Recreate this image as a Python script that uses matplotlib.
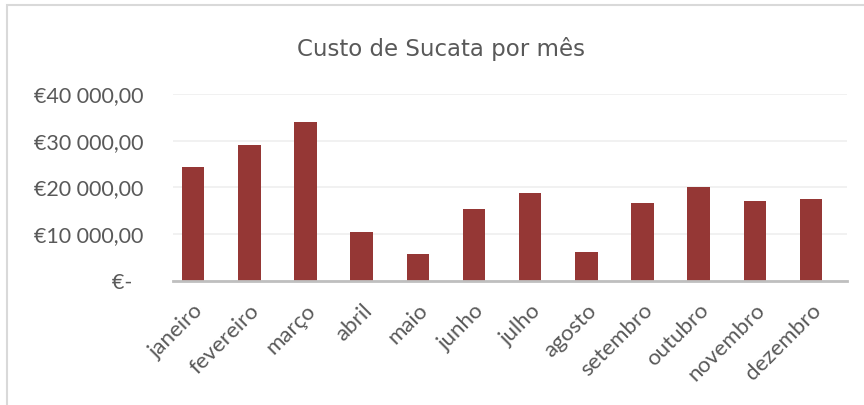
import matplotlib
matplotlib.use('Agg')
import matplotlib.pyplot as plt
from matplotlib.patches import Rectangle

# dados
meses = ['janeiro', 'fevereiro', 'março', 'abril', 'maio', 'junho',
         'julho', 'agosto', 'setembro', 'outubro', 'novembro', 'dezembro']
custo = [24400, 29000, 34000, 10400, 5800, 15500,
         18900, 6300, 16700, 20100, 17200, 17500]
yticks = [0, 10000, 20000, 30000, 40000]
ytick_labels = ['€-  ', '€10 000,00', '€20 000,00', '€30 000,00', '€40 000,00']

cor_barra = '#953735'
cor_texto = '#595959'

fig = plt.figure(figsize=(8.64, 4.05), dpi=100)
ax = fig.add_axes([0.2002, 0.3062, 0.7801, 0.4617])

x = range(len(meses))
ax.bar(x, custo, width=0.4, color=cor_barra, zorder=3)

ax.set_ylim(0, 40000)
ax.set_xlim(-0.36, len(meses) - 0.36)
ax.set_yticks(yticks)
ax.set_yticklabels(ytick_labels, fontfamily='Lato', fontsize=15.5, color=cor_texto)
ax.set_xticks(list(x))
ax.set_xticklabels(meses, rotation=45, ha='right', rotation_mode='anchor',
                   fontfamily='Lato', fontsize=16, color=cor_texto)
ax.tick_params(axis='y', length=0, pad=21)
ax.tick_params(axis='x', length=0, pad=14)

# grelha
ax.grid(axis='y', color='#F0F0F0', linewidth=1.3, zorder=0)
for s in ['top', 'right', 'left']:
    ax.spines[s].set_visible(False)
ax.spines['bottom'].set_color('#BFBFBF')
ax.spines['bottom'].set_linewidth(2)
ax.spines['bottom'].set_zorder(4)

fig.text(0.51, 0.88, 'Custo de Sucata por mês', ha='center', va='center',
         fontfamily='DejaVu Sans', fontsize=16.5, color=cor_texto)

# moldura do gráfico
fig.patches.append(Rectangle((7 / 864, -0.1), 1.2, 1.1 - 5 / 405,
                             transform=fig.transFigure, fill=False,
                             edgecolor='#D9D9D9', linewidth=1.5))

plt.savefig('out.png', dpi=100)
